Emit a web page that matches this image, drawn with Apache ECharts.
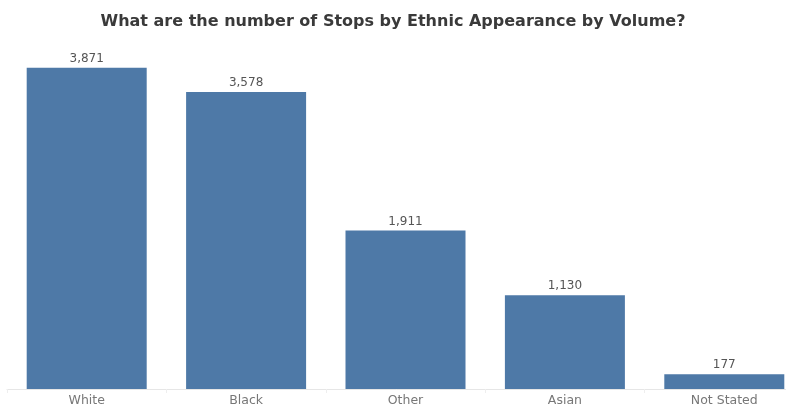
<!DOCTYPE html>
<html>
<head>
<meta charset="utf-8">
<script src="https://cdn.jsdelivr.net/npm/echarts@6/dist/echarts.min.js"></script>
<style>
  html, body { margin: 0; padding: 0; background: #fff; }
  #chart { width: 786px; height: 405px; }
</style>
</head>
<body>
<div id="chart"></div>
<script>
const categories = ['White', 'Black', 'Other', 'Asian', 'Not Stated'];
const stops = [3871, 3578, 1911, 1130, 177];

const chart = echarts.init(document.getElementById('chart'));

chart.setOption({
  animation: false,
  title: {
    text: 'What are the number of Stops by Ethnic Appearance by Volume?',
    left: 'center',
    top: 9,
    textStyle: {
      fontFamily: 'DejaVu Sans',
      fontSize: 16,
      fontWeight: 'bold',
      color: '#3a3a3a',
    },
  },
  grid: {
    left: 7,
    width: 797,
    top: 57,
    bottom: 16,
    containLabel: false,
    outerBoundsMode: 'none',
  },
  xAxis: {
    type: 'category',
    data: categories,
    axisLine: { lineStyle: { color: '#e6e6e6' } },
    axisTick: { show: true, length: 4, lineStyle: { color: '#eee' } },
    axisLabel: {
      color: '#777',
      fontFamily: 'DejaVu Sans',
      fontSize: 12.5,
      margin: 5,
    },
  },
  yAxis: {
    type: 'value',
    min: 0,
    max: 4000,
    show: false,
    splitLine: { show: false },
  },
  series: [
    {
      type: 'bar',
      data: stops,
      barWidth: 120,
      itemStyle: { color: '#4e79a7' },
      label: {
        show: true,
        position: 'top',
        distance: 3,
        color: '#555',
        fontFamily: 'DejaVu Sans',
        fontSize: 12,
        formatter: (p) => p.value.toLocaleString('en-US'),
      },
    },
  ],
});
</script>
</body>
</html>
